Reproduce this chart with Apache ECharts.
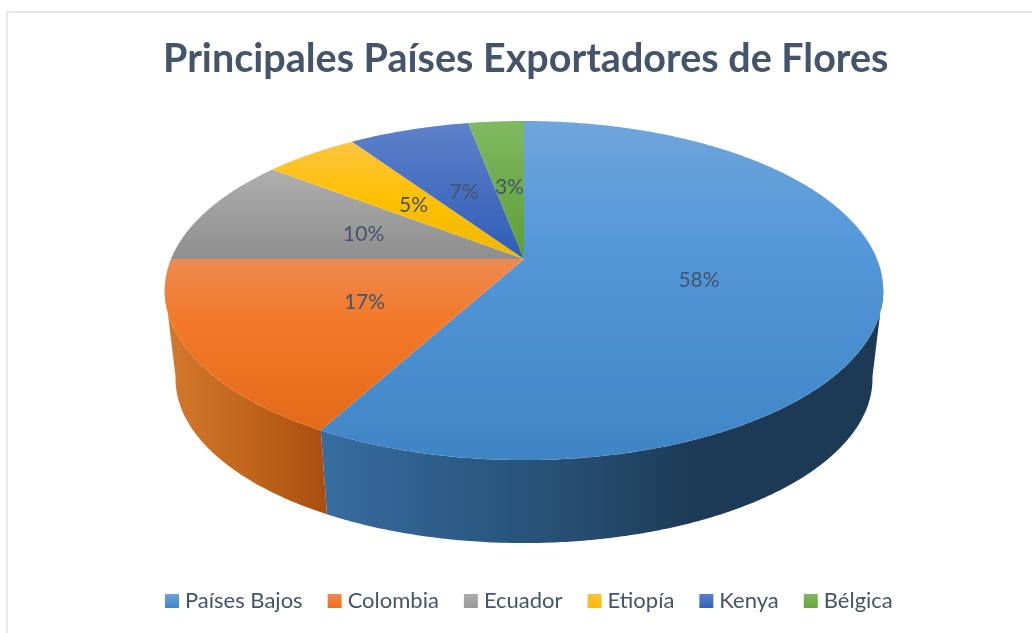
<!DOCTYPE html>
<html>
<head>
<meta charset="utf-8">
<style>html,body{margin:0;padding:0;background:#fff}#c{width:1032px;height:633px}</style>
<script src="https://cdn.jsdelivr.net/npm/echarts@6/dist/echarts.min.js"></script>
</head>
<body>
<div id="c"></div>
<script>
var titleText = 'Principales Países Exportadores de Flores';
var categories = ['Países Bajos', 'Colombia', 'Ecuador', 'Etiopía', 'Kenya', 'Bélgica'];
var values = [58, 17, 10.4, 5.1, 6.51, 2.99];
var topStops = [
  [[0, '#70a5dc'], [0.35, '#5598da'], [1, '#3f85c6']],
  [[0, '#ee8a50'], [0.35, '#f27a2a'], [1, '#e36a18']],
  [[0, '#afafaf'], [1, '#8e8e8e']],
  [[0, '#fec540'], [0.5, '#ffc000'], [1, '#eeb800']],
  [[0, '#5e82cb'], [1, '#2e5cb6']],
  [[0, '#80b962'], [1, '#5c9e35']]
];
var legendStops = [
  [[0, '#6ba3dd'], [1, '#4187ca']],
  [[0, '#f08a4a'], [1, '#ee6f1a']],
  [[0, '#adadad'], [1, '#989898']],
  [[0, '#fdc240'], [1, '#fdbb00']],
  [[0, '#5b80cb'], [1, '#315fb9']],
  [[0, '#80b962'], [1, '#65a43c']]
];
var wallStops = [
  [[320, '#376d9f'], [470, '#2b5a85'], [600, '#244a6c'], [690, '#1d3b56'], [880, '#1c3a54']],
  [[170, '#d2782c'], [250, '#c0651a'], [325, '#aa4e10']]
];

var total = values.reduce(function (a, b) { return a + b; }, 0);
function grad(stops) {
  return new echarts.graphic.LinearGradient(0, 0, 0, 1, stops.map(function (s) {
    return { offset: s[0], color: s[1] };
  }));
}
// Projection of the tilted disc
var CX = 524, CY = 259, RX = 353, YA = 115.5, K = -0.186;
var BASE_X = 0.97, BASE_BOTTOM = 543, TOP_BOTTOM = 460;
function project(deg, r) {
  var a = deg * Math.PI / 180;
  var u = Math.sin(a) * r, v = -Math.cos(a) * r;
  var d = 1 + K * v;
  return [CX + RX * u / d, (CY + YA * v) / d];
}
function lower(p) {
  return [CX + (p[0] - CX) * BASE_X, BASE_BOTTOM - (TOP_BOTTOM - p[1]) * BASE_X];
}
function startOf(i) {
  var s = 0;
  for (var k = 0; k < i; k++) s += values[k];
  return s / total * 360;
}
function rim(a0, a1) {
  var pts = [], n = Math.max(2, Math.ceil((a1 - a0) * 2));
  for (var k = 0; k <= n; k++) pts.push(project(a0 + (a1 - a0) * k / n, 1));
  return pts;
}
function makeRender(i) {
  return function (params, api) {
    var a0 = startOf(i), a1 = a0 + api.value(0) / total * 360;
    var children = [];
    var w0 = Math.max(a0, 100), w1 = Math.min(a1, 260);
    if (w1 > w0 && wallStops[i]) {
      var upper = rim(w0, w1);
      var wall = upper.concat(upper.slice().reverse().map(lower));
      var xs = wallStops[i], xa = xs[0][0], xb = xs[xs.length - 1][0];
      children.push({
        type: 'polygon', shape: { points: wall }, z2: 1,
        style: {
          fill: new echarts.graphic.LinearGradient(xa, 0, xb, 0, xs.map(function (s) {
            return { offset: (s[0] - xa) / (xb - xa), color: s[1] };
          }), true)
        }
      });
    }
    var face = [project(a0, 0)].concat(rim(a0, a1));
    children.push({ type: 'polygon', shape: { points: face }, z2: 2, style: { fill: grad(topStops[i]) } });
    var mid = (a0 + a1) / 2;
    var lp = project(mid, 0.5 - 0.02 * Math.max(Math.cos(mid * Math.PI / 180), 0));
    children.push({
      type: 'text', z2: 10,
      style: {
        text: Math.round(api.value(0) / total * 100) + '%',
        x: lp[0], y: lp[1], align: 'center', verticalAlign: 'middle',
        fill: '#44546a', font: '21px Lato'
      }
    });
    return { type: 'group', children: children };
  };
}
var chart = echarts.init(document.getElementById('c'), null, { renderer: 'canvas' });
chart.setOption({
  animation: false,
  backgroundColor: '#ffffff',
  title: {
    text: titleText, left: 158, top: 34,
    textStyle: { color: '#44546a', fontFamily: 'Lato', fontWeight: 'bold', fontSize: 39.5 }
  },
  legend: {
    left: 160, top: 585, itemWidth: 14, itemHeight: 14, itemGap: 25,
    icon: 'rect',
    textStyle: { color: '#44546a', fontFamily: 'Lato', fontSize: 22, padding: [0, 0, 0, 1] },
    data: categories.map(function (c, i) { return { name: c, itemStyle: { color: grad(legendStops[i]) } }; })
  },
  graphic: [{
    type: 'rect', silent: true, z: -1,
    shape: { x: 7, y: 12, width: 1060, height: 660 },
    style: { fill: 'none', stroke: '#e4e8ee', lineWidth: 2 }
  }],
  series: categories.map(function (c, i) {
    return {
      type: 'custom', name: c, coordinateSystem: 'none',
      itemStyle: { color: grad(legendStops[i]) },
      renderItem: makeRender(i),
      data: [[values[i]]]
    };
  })
});
</script>
</body>
</html>
